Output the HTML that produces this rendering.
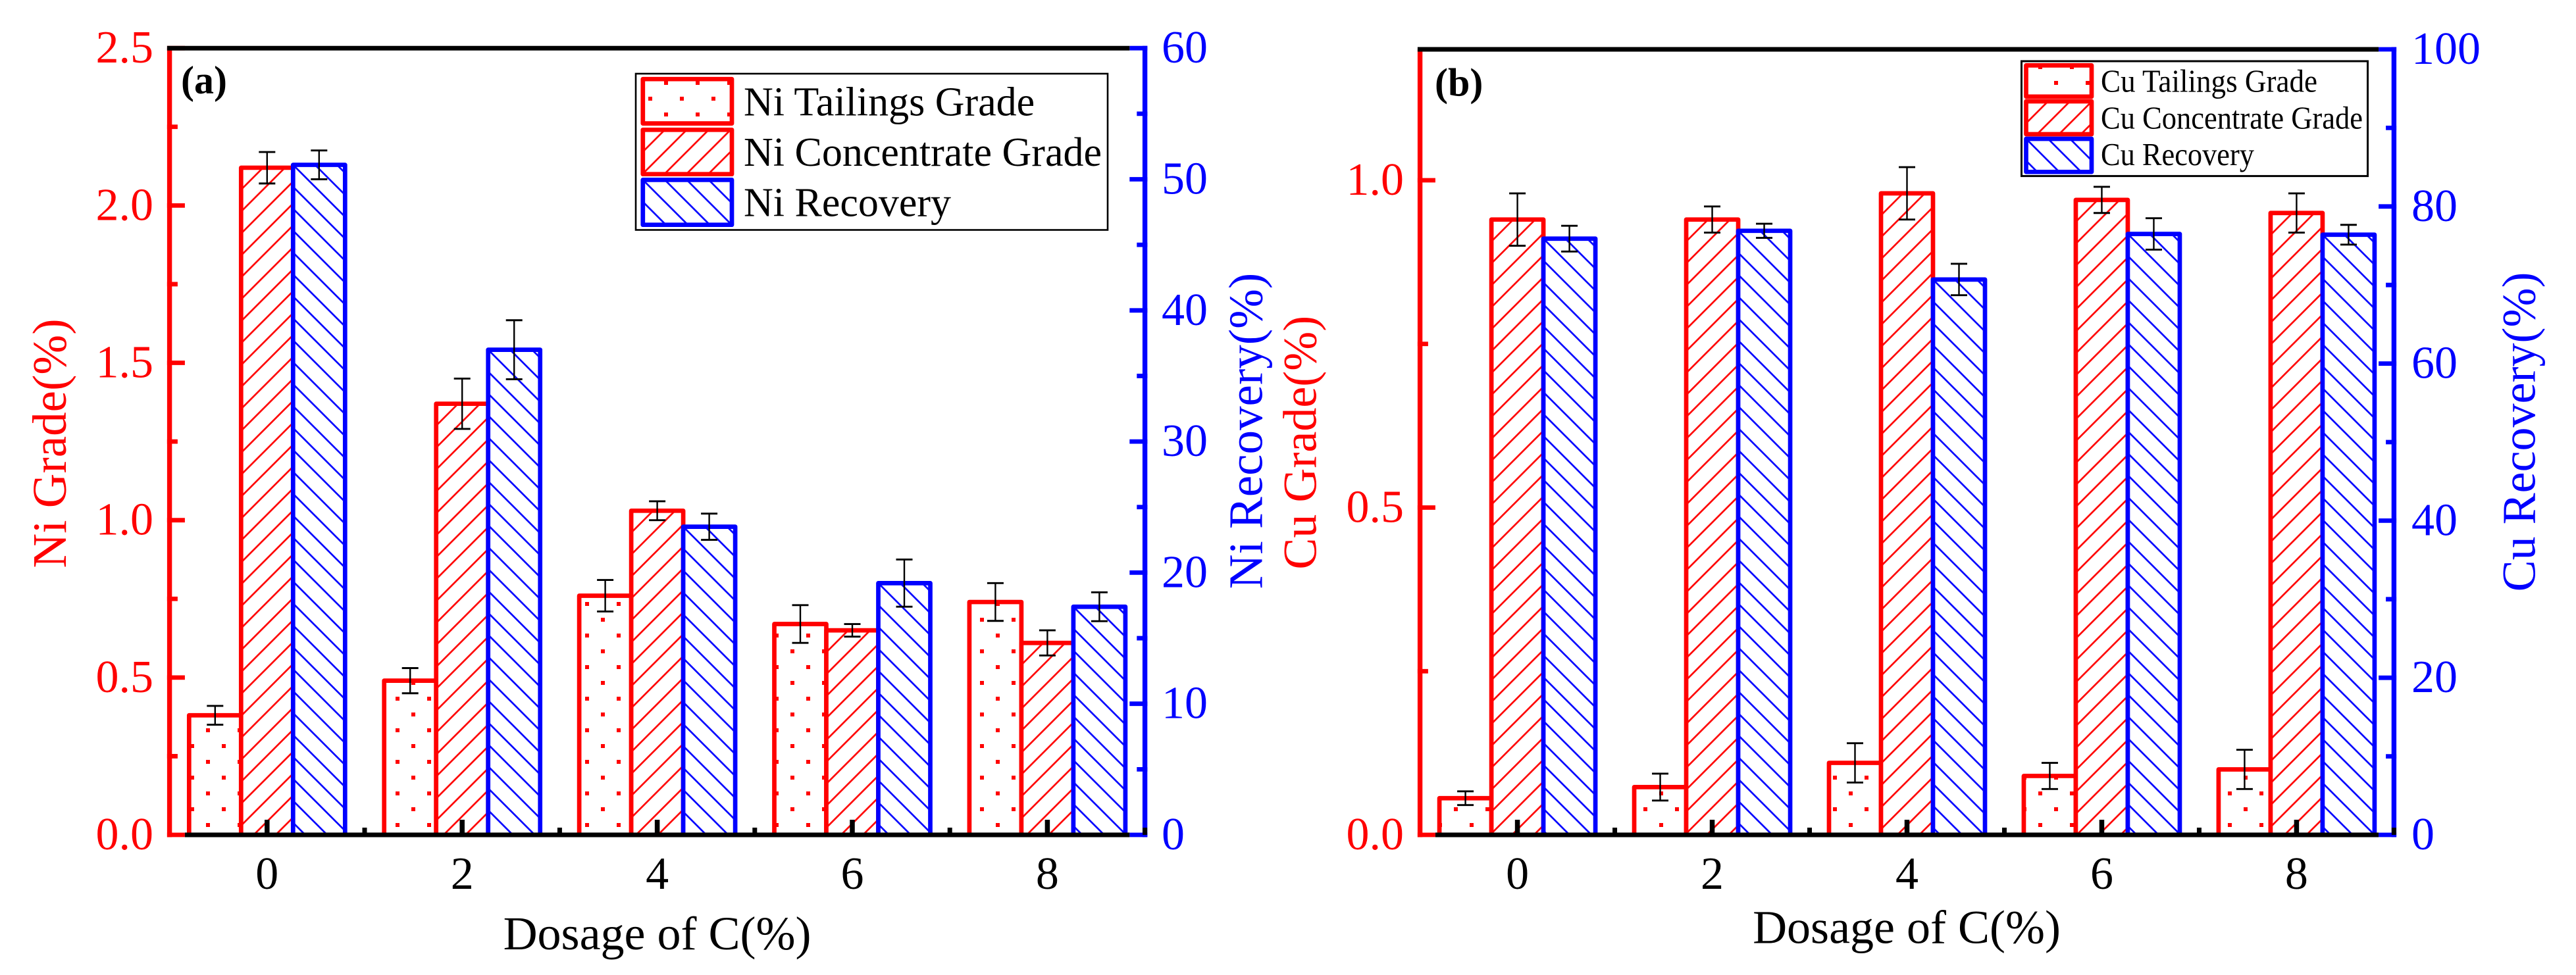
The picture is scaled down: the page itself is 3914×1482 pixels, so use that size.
<!DOCTYPE html>
<html lang="en">
<head>
<meta charset="utf-8">
<title>Ni and Cu grade and recovery vs dosage of C</title>
<style>
  html, body { margin: 0; padding: 0; background: #fff; }
  svg { display: block; }
  text { font-family: "Liberation Serif", serif; }
</style>
</head>
<body>
<svg id="fig" xmlns="http://www.w3.org/2000/svg" width="3914" height="1482" viewBox="0 0 3914 1482">
  <rect x="0" y="0" width="3914" height="1482" fill="#fff"/>
  <defs id="defs">
    <pattern id="dots" patternUnits="userSpaceOnUse" x="0" y="0" width="48" height="48">
      <rect x="25" y="3" width="6" height="6" fill="#f00"/>
      <rect x="1" y="27" width="6" height="6" fill="#f00"/>
    </pattern>
  </defs>
  <g id="panel-a"></g>
  <g id="panel-b"></g>

  <text x="275" y="142" font-size="60" font-weight="bold" fill="#000">(a)</text>
  <text x="998.5" y="1443" font-size="72" text-anchor="middle" fill="#000">Dosage of C(%)</text>
  <text transform="translate(100,674) rotate(-90)" font-size="73" text-anchor="middle" fill="#f00">Ni Grade(%)</text>
  <text transform="translate(1917.5,655) rotate(-90)" font-size="73" text-anchor="middle" fill="#00f">Ni Recovery(%)</text>

  <rect x="966" y="112" width="717" height="237.5" fill="none" stroke="#000" stroke-width="2.6"/>
  <text x="1130" y="175.5" font-size="62" fill="#000">Ni Tailings Grade</text>
  <text x="1130" y="252" font-size="62" fill="#000">Ni Concentrate Grade</text>
  <text x="1130" y="328.6" font-size="62" fill="#000">Ni Recovery</text>

  <text x="2180" y="145.5" font-size="60" font-weight="bold" fill="#000">(b)</text>
  <text x="2897" y="1433.5" font-size="72" text-anchor="middle" fill="#000">Dosage of C(%)</text>
  <text transform="translate(1999.7,672.7) rotate(-90)" font-size="72" text-anchor="middle" fill="#f00">Cu Grade(%)</text>
  <text transform="translate(3851.5,656.5) rotate(-90)" font-size="72" text-anchor="middle" fill="#00f">Cu Recovery(%)</text>

  <rect x="3071.5" y="93" width="526" height="174.6" fill="none" stroke="#000" stroke-width="3"/>
  <text x="3192" y="139.6" font-size="49" textLength="329" lengthAdjust="spacingAndGlyphs" fill="#000">Cu Tailings Grade</text>
  <text x="3192" y="195.3" font-size="49" textLength="398" lengthAdjust="spacingAndGlyphs" fill="#000">Cu Concentrate Grade</text>
  <text x="3192" y="251" font-size="49" textLength="233" lengthAdjust="spacingAndGlyphs" fill="#000">Cu Recovery</text>
</svg>

<script>
// ---------- data ----------
const categories = [0, 2, 4, 6, 8];

const niTailings = [0.38, 0.49, 0.76, 0.67, 0.74];
const niTailingsErr = [0.03, 0.04, 0.05, 0.06, 0.06];
const niConcentrate = [2.12, 1.37, 1.03, 0.65, 0.61];
const niConcentrateErr = [0.05, 0.08, 0.03, 0.02, 0.04];
const niRecovery = [51.1, 37.0, 23.5, 19.2, 17.4];
const niRecoveryErr = [1.1, 2.25, 1.0, 1.8, 1.1];

const cuTailings = [0.056, 0.073, 0.11, 0.09, 0.10];
const cuTailingsErr = [0.0105, 0.0205, 0.03, 0.02, 0.03];
const cuConcentrate = [0.94, 0.94, 0.98, 0.97, 0.95];
const cuConcentrateErr = [0.04, 0.02, 0.04, 0.02, 0.03];
const cuRecovery = [75.9, 76.9, 70.7, 76.5, 76.4];
const cuRecoveryErr = [1.64, 0.9, 2.0, 2.0, 1.26];

const niGradeTicks = ['0.0', '0.5', '1.0', '1.5', '2.0', '2.5'];
const niRecoveryTicks = ['0', '10', '20', '30', '40', '50', '60'];
const cuGradeTicks = ['0.0', '0.5', '1.0'];
const cuRecoveryTicks = ['0', '20', '40', '60', '80', '100'];

// ---------- drawing ----------
const NS = 'http://www.w3.org/2000/svg';
const RED = '#f00', BLUE = '#00f', BLACK = '#000';
const BAR_STROKE = 6.7, HATCH = 33.33;
const defs = document.getElementById('defs');
let patternCount = 0;

function make(tag, parent, attrs) {
  const e = document.createElementNS(NS, tag);
  for (const k in attrs) e.setAttribute(k, attrs[k]);
  parent.appendChild(e);
  return e;
}

function linearScale(d0, d1, r0, r1) {
  return function (v) { return r0 + (v - d0) * (r1 - r0) / (d1 - d0); };
}

function hatchPattern(kind, left, top, color) {
  const id = 'hatch-' + (patternCount++);
  const p = make('pattern', defs, {
    id: id, patternUnits: 'userSpaceOnUse', width: HATCH, height: HATCH,
    patternTransform: 'translate(' + left + ',' + top + ')'
  });
  const h = HATCH, o = 4;
  const d = kind === 'up'
    ? 'M' + (-o) + ',' + (h + o) + 'L' + (h + o) + ',' + (-o) +
      'M' + (-o) + ',' + o + 'L' + o + ',' + (-o) +
      'M' + (h - o) + ',' + (h + o) + 'L' + (h + o) + ',' + (h - o)
    : 'M' + (-o) + ',' + (-o) + 'L' + (h + o) + ',' + (h + o) +
      'M' + (-o) + ',' + (h - o) + 'L' + o + ',' + (h + o) +
      'M' + (h - o) + ',' + (-o) + 'L' + (h + o) + ',' + o;
  make('path', p, { d: d, fill: 'none', stroke: color, 'stroke-width': 2.7 });
  return id;
}

function drawBox(parent, kind, color, left, top, width, height) {
  const g = make('g', parent, {});
  const bg = make('rect', g, { x: left, y: top, width: width, height: height, fill: '#fff' });
  let fillId = 'dots';
  if (kind !== 'dots') fillId = hatchPattern(kind, left, top, color);
  make('rect', g, { x: left, y: top, width: width, height: height, fill: 'url(#' + fillId + ')' });
  make('rect', g, {
    x: left, y: top, width: width, height: height, fill: 'none',
    stroke: color, 'stroke-width': BAR_STROKE, 'stroke-linejoin': 'round'
  });
  return g;
}

function drawPanel(cfg) {
  const root = document.getElementById(cfg.id);
  const x = linearScale(-1, 9, cfg.left, cfg.right);
  const yL = linearScale(0, cfg.leftMax, cfg.base, cfg.top);
  const yR = linearScale(0, cfg.rightMax, cfg.base, cfg.top);
  const barW = 79;

  // bars + error bars
  const barsLayer = make('g', root, {});
  const errLayer = make('g', root, {});
  cfg.series.forEach(function (s, si) {
    const y = s.axis === 'left' ? yL : yR;
    categories.forEach(function (c, i) {
      const left = x(c) + (si - 1.5) * barW;
      const topY = y(s.values[i]);
      const bar = drawBox(barsLayer, s.kind, s.color, left, topY, barW, cfg.base - topY);
      
      

      const cx = left + barW / 2;
      const yHi = y(s.values[i] + s.errors[i]);
      const yLo = y(s.values[i] - s.errors[i]);
      const eb = make('path', errLayer, {
        d: 'M' + cx + ',' + yHi + 'V' + yLo,
        stroke: BLACK, 'stroke-width': 2.4, fill: 'none'
      });
      
      
      const capHi = make('path', errLayer, {
        d: 'M' + (cx - 12.5) + ',' + yHi + 'H' + (cx + 12.5),
        stroke: BLACK, 'stroke-width': 2.9, fill: 'none'
      });
      
      
      const capLo = make('path', errLayer, {
        d: 'M' + (cx - 12.5) + ',' + yLo + 'H' + (cx + 12.5),
        stroke: BLACK, 'stroke-width': 2.9, fill: 'none'
      });
      
      
    });
  });

  // axes
  const axes = make('g', root, {});
  const leftSpine = make('line', axes, { x1: cfg.left, x2: cfg.left, y1: cfg.top, y2: cfg.base + 3.5, stroke: RED, 'stroke-width': 7.4 });
  
  
  const rightSpine = make('line', axes, { x1: cfg.right, x2: cfg.right, y1: cfg.top - 3.5, y2: cfg.base + 3.5, stroke: BLUE, 'stroke-width': 7.4 });
  
  

  const majorLen = 27, minorLen = 16;
  const edgeL = cfg.left - 3.7, edgeR = cfg.right + 3.7;

  function yTicks(labels, scale, side, color) {
    const step = Number(labels[1]) - Number(labels[0]);
    const maxV = side === 'left' ? cfg.leftMax : cfg.rightMax;
    labels.forEach(function (lab) {
      const v = Number(lab);
      const py = scale(v);
      const tick = make('line', axes, {
        x1: side === 'left' ? edgeL : edgeR - majorLen,
        x2: side === 'left' ? edgeL + majorLen : edgeR,
        y1: py, y2: py, stroke: color, 'stroke-width': 6.8
      });
      
      
      const t = make('text', axes, {
        x: side === 'left' ? cfg.leftLabelX : cfg.rightLabelX,
        y: py + 22, 'font-size': 70, fill: color,
        'text-anchor': side === 'left' ? 'end' : 'start'
      });
      t.textContent = lab;
      
      
    });
    for (let v = step / 2; v < maxV; v += step) {
      const py = scale(v);
      const minor = make('line', axes, {
        x1: side === 'left' ? edgeL : edgeR - minorLen,
        x2: side === 'left' ? edgeL + minorLen : edgeR,
        y1: py, y2: py, stroke: color, 'stroke-width': 6.8
      });
      
      
    }
  }
  yTicks(cfg.leftTicks, yL, 'left', RED);
  yTicks(cfg.rightTicks, yR, 'right', BLUE);

  const topLine = make('line', axes, { x1: edgeL, x2: edgeR - majorLen, y1: cfg.top, y2: cfg.top, stroke: BLACK, 'stroke-width': 7 });
  
  
  const bottomLine = make('line', axes, { x1: edgeL + majorLen, x2: edgeR - majorLen, y1: cfg.base, y2: cfg.base, stroke: BLACK, 'stroke-width': 7 });
  
  

  categories.forEach(function (c) {
    const px = x(c);
    const tick = make('line', axes, { x1: px, x2: px, y1: cfg.base - 23, y2: cfg.base, stroke: BLACK, 'stroke-width': 7.5 });
    
    
    const t = make('text', axes, { x: px, y: cfg.base + 82, 'font-size': 70, fill: BLACK, 'text-anchor': 'middle' });
    t.textContent = String(c);
    
    
    const pm = x(c + 1);
    const minor = make('line', axes, { x1: pm, x2: pm, y1: cfg.base - 11, y2: cfg.base, stroke: BLACK, 'stroke-width': 7 });
    
    
  });

  // legend swatches
  cfg.series.forEach(function (s, si) {
    const sw = cfg.swatches[si];
    const g = drawBox(root, s.kind, s.color, cfg.swatchX, sw[0], cfg.swatchW, sw[1]);
    
    
  });
}

drawPanel({
  id: 'panel-a', prefix: 'panel-a',
  left: 257.6, right: 1739.6, top: 73.2, base: 1269,
  leftMax: 2.5, rightMax: 60,
  leftTicks: niGradeTicks, rightTicks: niRecoveryTicks,
  leftLabelX: 233, rightLabelX: 1765,
  swatchX: 976.8, swatchW: 135.2,
  swatches: [[120.2, 67.4], [197.3, 67.4], [273.4, 68.3]],
  series: [
    { key: 'tailings', kind: 'dots', color: RED, axis: 'left', values: niTailings, errors: niTailingsErr },
    { key: 'concentrate', kind: 'up', color: RED, axis: 'left', values: niConcentrate, errors: niConcentrateErr },
    { key: 'recovery', kind: 'down', color: BLUE, axis: 'right', values: niRecovery, errors: niRecoveryErr }
  ]
});

drawPanel({
  id: 'panel-b', prefix: 'panel-b',
  left: 2157.6, right: 3637.4, top: 75, base: 1269,
  leftMax: 1.2, rightMax: 100,
  leftTicks: cuGradeTicks, rightTicks: cuRecoveryTicks,
  leftLabelX: 2133, rightLabelX: 3664,
  swatchX: 3078.5, swatchW: 99.5,
  swatches: [[99.4, 47.5], [154, 50], [211, 50.3]],
  series: [
    { key: 'tailings', kind: 'dots', color: RED, axis: 'left', values: cuTailings, errors: cuTailingsErr },
    { key: 'concentrate', kind: 'up', color: RED, axis: 'left', values: cuConcentrate, errors: cuConcentrateErr },
    { key: 'recovery', kind: 'down', color: BLUE, axis: 'right', values: cuRecovery, errors: cuRecoveryErr }
  ]
});
</script>
</body>
</html>
